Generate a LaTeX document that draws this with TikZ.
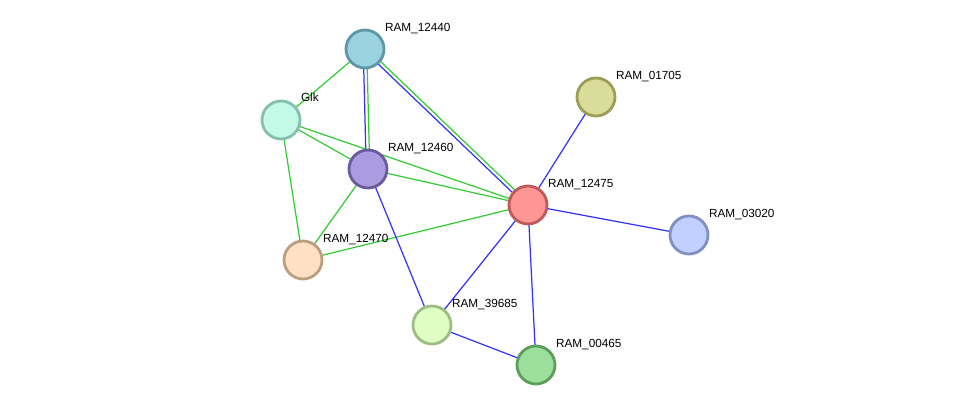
\documentclass[tikz,border=0pt]{standalone}
\usepackage{fontspec}
\setmainfont{Liberation Sans}
\usetikzlibrary{backgrounds}
\definecolor{edgegreen}{RGB}{51,204,51}
\definecolor{edgeblue}{RGB}{51,51,255}
\definecolor{f12440}{RGB}{153,211,226}\definecolor{d12440}{RGB}{94,151,166}
\definecolor{fglk}{RGB}{194,249,231}\definecolor{dglk}{RGB}{133,192,174}
\definecolor{f12460}{RGB}{171,155,224}\definecolor{d12460}{RGB}{107,91,158}
\definecolor{f12475}{RGB}{255,150,150}\definecolor{d12475}{RGB}{192,90,90}
\definecolor{f01705}{RGB}{218,221,153}\definecolor{d01705}{RGB}{156,158,88}
\definecolor{f03020}{RGB}{193,208,255}\definecolor{d03020}{RGB}{128,144,192}
\definecolor{f12470}{RGB}{255,224,194}\definecolor{d12470}{RGB}{185,160,131}
\definecolor{f39685}{RGB}{222,255,194}\definecolor{d39685}{RGB}{156,189,134}
\definecolor{f00465}{RGB}{156,222,156}\definecolor{d00465}{RGB}{92,158,92}
\tikzset{
  prot/.style={circle, draw=d#1, fill=f#1, line width=1.6pt, minimum size=0.76cm, inner sep=0pt},
  lbl/.style={font=\fontsize{6.7}{8}\selectfont, inner sep=0pt, anchor=south west, xshift=3pt},
  tag/.style={label={[lbl]45:#1}},
  gr/.style={draw=edgegreen, line width=0.7pt},
  bl/.style={draw=edgeblue, line width=0.7pt}
}
\begin{document}
\begin{tikzpicture}[x=0.02cm, y=-0.02cm]
        \useasboundingbox (0,0) rectangle (975,411);
        % Proteine
        \node[prot=12440, tag=RAM\_12440] (n12440) at (365,49) {};
        \node[prot=glk, label={[lbl, yshift=2pt]45:Glk}] (glk) at (281,120) {};
        \node[prot=12460, tag=RAM\_12460] (n12460) at (368,169) {};
        \node[prot=12475, tag=RAM\_12475] (n12475) at (528,205) {};
        \node[prot=01705, tag=RAM\_01705] (n01705) at (596,97) {};
        \node[prot=03020, tag=RAM\_03020] (n03020) at (689,235) {};
        \node[prot=12470, tag=RAM\_12470] (n12470) at (303,260) {};
        \node[prot=39685, tag=RAM\_39685] (n39685) at (432,325) {};
        \node[prot=00465, tag=RAM\_00465] (n00465) at (536,365) {};
        % Verbindungen
        \begin{pgfonlayer}{background}
          \draw[gr] (n12440.center) -- (glk.center);
          \draw[bl] ([xshift=-1pt]n12440.center) -- ([xshift=-1pt]n12460.center);
          \draw[gr] ([xshift=1pt]n12440.center) -- ([xshift=1pt]n12460.center);
          \draw[bl] ([shift={(-0.7pt,-0.7pt)}]n12440.center) -- ([shift={(-0.7pt,-0.7pt)}]n12475.center);
          \draw[gr] ([shift={(0.7pt,0.7pt)}]n12440.center) -- ([shift={(0.7pt,0.7pt)}]n12475.center);
          \draw[gr] (glk.center) -- (n12460.center);
          \draw[gr] (glk.center) -- (n12475.center);
          \draw[gr] (glk.center) -- (n12470.center);
          \draw[gr] (n12460.center) -- (n12475.center);
          \draw[gr] (n12460.center) -- (n12470.center);
          \draw[gr] (n12470.center) -- (n12475.center);
          \draw[bl] (n12460.center) -- (n39685.center);
          \draw[bl] (n12475.center) -- (n01705.center);
          \draw[bl] (n12475.center) -- (n03020.center);
          \draw[bl] (n12475.center) -- (n39685.center);
          \draw[bl] (n12475.center) -- (n00465.center);
          \draw[bl] (n39685.center) -- (n00465.center);
        \end{pgfonlayer}
\end{tikzpicture}
\end{document}
